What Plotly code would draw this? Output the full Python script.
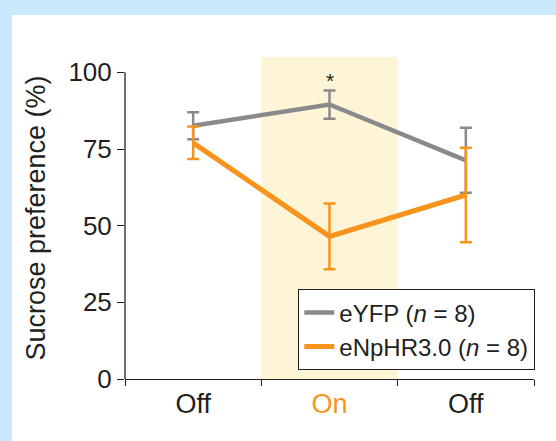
import plotly.graph_objects as go

categories = ["Off1", "On", "Off2"]
tick_labels = ["Off", "<span style='color:#f7941d'>On</span>", "Off"]
eyfp_mean = [82.6, 89.5, 71.3]
eyfp_err = [4.4, 4.6, 10.6]
enphr_mean = [77.0, 46.5, 60.0]
enphr_err = [5.3, 10.7, 15.4]
y_ticks = [0, 25, 50, 75, 100]

GRAY = "#8a8a8a"
ORANGE = "#f7941d"
DARK = "#231f20"
FONT = "Liberation Sans, Arial, sans-serif"

fig = go.Figure()
fig.add_trace(go.Scatter(
    x=categories, y=eyfp_mean, mode="lines",
    name="eYFP (<i>n</i> = 8)",
    line=dict(color=GRAY, width=4.5),
    error_y=dict(type="data", array=eyfp_err, visible=True, color=GRAY, thickness=2.5, width=6),
))
fig.add_trace(go.Scatter(
    x=categories, y=enphr_mean, mode="lines",
    name="eNpHR3.0 (<i>n</i> = 8)",
    line=dict(color=ORANGE, width=5),
    error_y=dict(type="data", array=enphr_err, visible=True, color=ORANGE, thickness=2.5, width=6),
))

L, R, T, B = 125, 22, 57, 62
W, H = 556, 441
pw, ph = W - L - R, H - T - B

def px_x(p):
    return (p - L) / pw

def px_y(p):
    return (H - B - p) / ph

shapes = [
    dict(type="rect", xref="paper", yref="paper", x0=px_x(0), x1=px_x(W + 5), y0=px_y(15), y1=px_y(-5),
         fillcolor="#cbe9fc", line=dict(width=0), layer="below"),
    dict(type="rect", xref="paper", yref="paper", x0=px_x(-5), x1=px_x(12), y0=px_y(H + 5), y1=px_y(-5),
         fillcolor="#cbe9fc", line=dict(width=0), layer="below"),
    dict(type="rect", xref="x", yref="y", x0=0.5, x1=1.5, y0=0, y1=105,
         fillcolor="#fdf5d6", line=dict(width=0), layer="below"),
    dict(type="line", xref="paper", yref="y", x0=0, x1=0, y0=0, y1=100,
         line=dict(color=DARK, width=1.3)),
]

fig.update_layout(
    width=W, height=H,
    margin=dict(l=L, r=R, t=T, b=B),
    paper_bgcolor="white", plot_bgcolor="rgba(0,0,0,0)",
    font=dict(family=FONT, color=DARK),
    shapes=shapes,
    showlegend=True,
    legend=dict(
        x=px_x(298), y=px_y(289), xanchor="left", yanchor="top",
        bgcolor="white", bordercolor=DARK, borderwidth=1.3,
        font=dict(size=24, family=FONT, color=DARK),
        itemwidth=30, tracegroupgap=0,
    ),
    annotations=[dict(x="On", y=97.5, xref="x", yref="y", text="*", showarrow=False,
                      font=dict(size=21, color=DARK, family=FONT))],
)
fig.update_xaxes(
    type="category", categoryorder="array", categoryarray=categories,
    range=[-0.5, 2.5], tickvals=categories, ticktext=tick_labels,
    tickson="boundaries", ticks="outside", ticklen=6, tickwidth=1.3, tickcolor=DARK,
    showline=True, linecolor=DARK, linewidth=1.3, showgrid=False, zeroline=False,
    tickfont=dict(size=27, family=FONT, color=DARK), fixedrange=True,
)
fig.update_yaxes(
    range=[0, 105], tickvals=y_ticks, ticks="outside", ticklen=7, tickwidth=1.3, tickcolor=DARK,
    showline=False, showgrid=False, zeroline=False,
    tickfont=dict(size=26, family=FONT, color=DARK),
    title=dict(text="Sucrose preference (%)", font=dict(size=27, family=FONT, color=DARK), standoff=14),
)

fig.write_html("out.html")
